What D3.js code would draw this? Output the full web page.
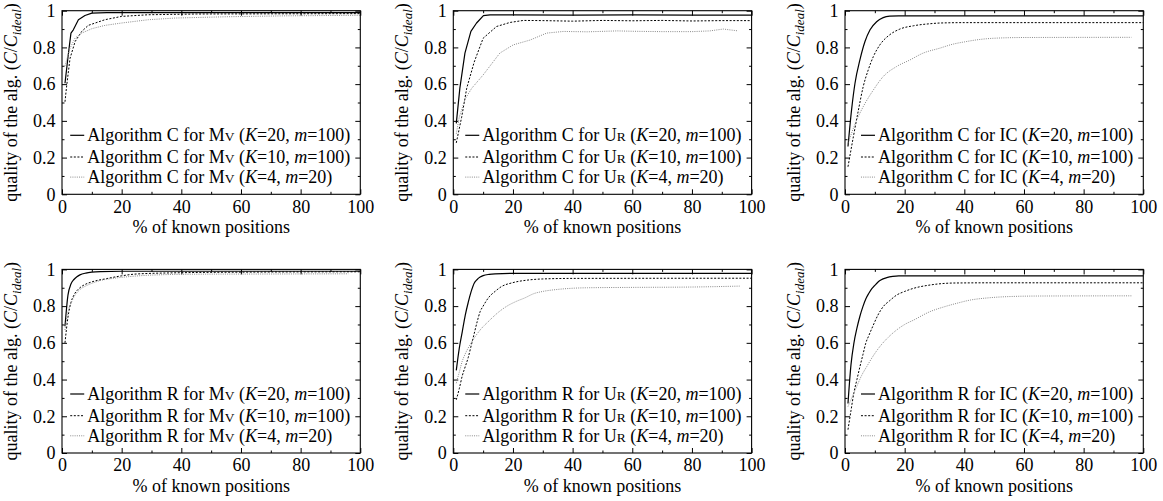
<!DOCTYPE html>
<html>
<head>
<meta charset="utf-8">
<script src="https://cdn.jsdelivr.net/npm/d3@7"></script>
<style>
  html, body { margin: 0; padding: 0; background: #fff; }
  svg { display: block; }
  text { font-family: "Liberation Serif", "Times New Roman", serif; fill: #000; }
</style>
</head>
<body>
<svg id="chart" width="1163" height="501"></svg>
<script>
// Axis ticks
const xMajor = [0, 20, 40, 60, 80, 100];
const xMinor = [10, 30, 50, 70, 90];
const yMajor = [0, 0.2, 0.4, 0.6, 0.8, 1];
const yMinor = [0.1, 0.3, 0.5, 0.7, 0.9];

// Legend parameters for the three curves of each panel
const kValues = [20, 10, 4];
const mValues = [100, 100, 20];

// Panel titles: algorithm and data set
const algorithms = ["C", "C", "C", "R", "R", "R"];
const datasets = [["M", "V"], ["U", "R"], ["IC", ""], ["M", "V"], ["U", "R"], ["IC", ""]];

// Quality vs. % of known positions, [x, y]
const cMv20 = [[1,0.605],[2.1,0.76],[3,0.878],[3.8,0.896],[5.5,0.951],[7.7,0.974],[10,0.987],[15,0.99],[40,0.99],[70,0.99],[100,0.99]];
const cMv10 = [[1,0.504],[1.6,0.596],[2.7,0.741],[4.4,0.832],[6.6,0.887],[8.8,0.92],[14.4,0.951],[20,0.969],[29,0.978],[45,0.982],[70,0.983],[100,0.984]];
const cMv4  = [[1,0.70],[2.7,0.796],[4.4,0.851],[6.6,0.878],[10,0.902],[14.4,0.92],[20,0.933],[29,0.951],[38,0.96],[55,0.967],[75,0.972],[100,0.975]];

const cUr20 = [[1,0.386],[2.2,0.578],[3.9,0.769],[5.9,0.887],[7.8,0.933],[10.1,0.973],[12.3,0.977],[20,0.977],[40,0.976],[60,0.977],[80,0.976],[100,0.976]];
const cUr10 = [[1,0.28],[2.8,0.42],[4.5,0.578],[7,0.72],[10,0.85],[14.5,0.914],[19,0.936],[23.5,0.947],[30,0.946],[40,0.943],[50,0.947],[60,0.945],[70,0.947],[80,0.944],[90,0.946],[100,0.946]];
const cUr4  = [[1,0.33],[2,0.42],[4,0.52],[6.2,0.578],[10,0.65],[15.6,0.769],[20.1,0.814],[25.7,0.84],[31.3,0.878],[36.9,0.887],[45,0.885],[55,0.89],[60,0.888],[70,0.886],[80,0.886],[86,0.89],[90.5,0.9],[95.5,0.89]];

const cIC20 = [[1,0.26],[2.2,0.46],[3.35,0.605],[5,0.732],[6.7,0.832],[8.4,0.896],[10.6,0.94],[12.8,0.962],[15,0.97],[18,0.972],[30,0.972],[100,0.972]];
const cIC10 = [[1,0.15],[2.8,0.313],[4.5,0.459],[6.1,0.586],[7.8,0.678],[9.5,0.75],[11.7,0.814],[15,0.869],[18.4,0.9],[23,0.918],[28.5,0.929],[32,0.933],[40,0.935],[60,0.935],[100,0.935]];
const cIC4  = [[1,0.277],[3.9,0.404],[6.1,0.477],[9.5,0.568],[12.8,0.641],[17.3,0.696],[21.8,0.732],[26.2,0.769],[31.8,0.796],[36,0.817],[40,0.83],[45,0.843],[50,0.85],[60,0.854],[96,0.855]];

const rMv20 = [[1,0.69],[2,0.86],[3,0.92],[4,0.945],[5,0.96],[6,0.97],[8,0.98],[10,0.985],[13,0.988],[20,0.99],[100,0.99]];
const rMv10 = [[1,0.60],[2,0.74],[3,0.82],[4,0.86],[6,0.90],[8,0.92],[10,0.932],[15,0.95],[20,0.965],[25,0.975],[40,0.982],[60,0.985],[100,0.987]];
const rMv4  = [[1,0.67],[2,0.77],[3,0.815],[4,0.85],[6,0.89],[8,0.91],[10,0.924],[13,0.94],[17,0.951],[22,0.96],[30,0.969],[45,0.974],[70,0.975],[96,0.976]];

const rUr20 = [[1,0.45],[2,0.57],[3,0.66],[4,0.75],[5,0.82],[6,0.88],[7,0.925],[8,0.945],[9,0.958],[10,0.966],[12,0.973],[14,0.976],[20,0.978],[100,0.978]];
const rUr10 = [[1,0.29],[2,0.35],[3,0.42],[4,0.47],[5,0.52],[6,0.585],[7,0.65],[8,0.715],[9,0.77],[10,0.80],[12,0.85],[14,0.88],[16,0.905],[20,0.928],[25,0.942],[30,0.948],[40,0.951],[100,0.952]];
const rUr4  = [[1,0.38],[2,0.44],[3,0.50],[4,0.54],[6,0.60],[9,0.67],[12,0.72],[15,0.765],[18,0.80],[21,0.825],[24,0.845],[27,0.868],[30,0.88],[35,0.891],[45,0.90],[60,0.902],[80,0.904],[96,0.909]];

const rIC20 = [[1,0.27],[2,0.48],[3,0.60],[4,0.68],[5,0.745],[6,0.797],[7,0.84],[8,0.87],[9,0.895],[10,0.913],[11,0.93],[12,0.942],[14,0.955],[16,0.962],[18,0.965],[20,0.965],[100,0.965]];
const rIC10 = [[1,0.127],[2,0.23],[3,0.33],[4,0.40],[5,0.47],[6,0.535],[7,0.60],[8,0.64],[9.5,0.697],[11,0.75],[12.8,0.797],[15,0.83],[17.3,0.86],[20,0.88],[23,0.897],[28.5,0.915],[37,0.926],[50,0.927],[100,0.927]];
const rIC4  = [[1,0.253],[2,0.29],[4,0.365],[5.5,0.42],[7.3,0.471],[9.5,0.53],[11.7,0.58],[14.5,0.63],[17.3,0.67],[20,0.70],[23,0.724],[28.5,0.77],[33,0.795],[37.4,0.815],[42,0.833],[48,0.845],[55,0.852],[65,0.855],[96,0.856]];

// Panel table built from the arrays above (row-major order)
const panelSeries = [
  [cMv20, cMv10, cMv4], [cUr20, cUr10, cUr4], [cIC20, cIC10, cIC4],
  [rMv20, rMv10, rMv4], [rUr20, rUr10, rUr4], [rIC20, rIC10, rIC4]
];

// Layout
const colLeft = [62, 453.3, 845];
const plotW = 298.3;
const rowTop = [10.7, 269.4];
const plotH = 183.6;
const smoothPanels = [false, false, true, true, true, true];

const lineStyles = [
  { stroke: "#000", width: 1.2, dash: null },
  { stroke: "#000", width: 1.0, dash: "2,1.6" },
  { stroke: "#8a8a8a", width: 1.0, dash: "1,1.2" }
];

const svg = d3.select("#chart");
const FS = 18;

function addYLabel(g, w, h) {
  const t = g.append("text")
    .attr("transform", `translate(${-45.5},${h / 2}) rotate(-90)`)
    .attr("text-anchor", "middle")
    .style("font-size", FS + "px");
  t.append("tspan").text("quality of the alg. (");
  t.append("tspan").style("font-style", "italic").text("C");
  t.append("tspan").text("/");
  t.append("tspan").style("font-style", "italic").text("C");
  t.append("tspan").style("font-style", "italic").style("font-size", "13px").attr("dy", 4).text("ideal");
  t.append("tspan").attr("dy", -4).text(")");
}

panelSeries.forEach((series, i) => {
  const col = i % 3, row = Math.floor(i / 3);
  const left = colLeft[col], top = rowTop[row];
  const g = svg.append("g").attr("transform", `translate(${left},${top})`);

  const x = d3.scaleLinear().domain([0, 100]).range([0, plotW]);
  const y = d3.scaleLinear().domain([0, 1]).range([plotH, 0]);

  // Ticks pointing inwards on all four sides
  const styleAxis = sel => {
    sel.select(".domain").remove();
    sel.selectAll("line").attr("stroke", "#000").attr("stroke-width", 1);
    sel.selectAll("text").style("font-size", FS + "px").style("font-family", "Liberation Serif, serif");
  };
  g.append("g").attr("transform", `translate(0,${plotH})`)
    .call(d3.axisBottom(x).tickValues(xMajor).tickSize(-5).tickPadding(5.5).tickFormat(d3.format("d")))
    .call(styleAxis);
  g.append("g").attr("transform", `translate(0,${plotH})`)
    .call(d3.axisBottom(x).tickValues(xMinor).tickSize(-2.5).tickFormat(""))
    .call(styleAxis);
  g.append("g")
    .call(d3.axisTop(x).tickValues(xMajor).tickSize(-5).tickFormat(""))
    .call(styleAxis);
  g.append("g")
    .call(d3.axisTop(x).tickValues(xMinor).tickSize(-2.5).tickFormat(""))
    .call(styleAxis);
  g.append("g")
    .call(d3.axisLeft(y).tickValues(yMajor).tickSize(-5).tickPadding(6.6).tickFormat(d => d3.format("~g")(d)))
    .call(styleAxis);
  g.append("g")
    .call(d3.axisLeft(y).tickValues(yMinor).tickSize(-2.5).tickFormat(""))
    .call(styleAxis);
  g.append("g").attr("transform", `translate(${plotW},0)`)
    .call(d3.axisRight(y).tickValues(yMajor).tickSize(-5).tickFormat(""))
    .call(styleAxis);
  g.append("g").attr("transform", `translate(${plotW},0)`)
    .call(d3.axisRight(y).tickValues(yMinor).tickSize(-2.5).tickFormat(""))
    .call(styleAxis);

  // Curves
  const line = d3.line()
    .x(d => x(d[0])).y(d => y(d[1]))
    .curve(smoothPanels[i] ? d3.curveMonotoneX : d3.curveLinear);
  series.forEach((data, s) => {
    const st = lineStyles[s];
    g.append("path").datum(data)
      .attr("d", line)
      .attr("fill", "none")
      .attr("stroke", st.stroke)
      .attr("stroke-width", st.width)
      .attr("stroke-dasharray", st.dash)
      .attr("stroke-linejoin", "round");
  });

  // Frame
  g.append("rect").attr("x", 0).attr("y", 0).attr("width", plotW).attr("height", plotH)
    .attr("fill", "none").attr("stroke", "#000").attr("stroke-width", 1.1);

  // Legend (right-aligned block, bottom of plot)
  const legend = g.append("g");
  const rowOffsets = [59, 37.3, 17.2];
  const texts = [];
  kValues.forEach((k, s) => {
    const t = legend.append("text")
      .attr("y", plotH - rowOffsets[s]).attr("dy", "0.33em")
      .style("font-size", FS + "px");
    t.append("tspan").text(`Algorithm ${algorithms[i]} for ${datasets[i][0]}`);
    if (datasets[i][1]) t.append("tspan").style("font-size", "13.5px").text(datasets[i][1]);
    t.append("tspan").text(" (");
    t.append("tspan").style("font-style", "italic").text("K");
    t.append("tspan").text(`=${k}, `);
    t.append("tspan").style("font-style", "italic").text("m");
    t.append("tspan").text(`=${mValues[s]})`);
    texts.push(t);
  });
  const maxW = d3.max(texts, t => t.node().getComputedTextLength());
  const textX = plotW - 10 - maxW;
  texts.forEach((t, s) => {
    t.attr("x", textX);
    const st = lineStyles[s];
    legend.append("line")
      .attr("x1", textX - 17).attr("x2", textX - 3)
      .attr("y1", plotH - rowOffsets[s]).attr("y2", plotH - rowOffsets[s])
      .attr("stroke", st.stroke).attr("stroke-width", st.width)
      .attr("stroke-dasharray", st.dash);
  });

  // Axis titles
  g.append("text")
    .attr("x", plotW / 2).attr("y", plotH + 38.8)
    .attr("text-anchor", "middle")
    .style("font-size", FS + "px")
    .text("% of known positions");
  addYLabel(g, plotW, plotH);
});
</script>
</body>
</html>
